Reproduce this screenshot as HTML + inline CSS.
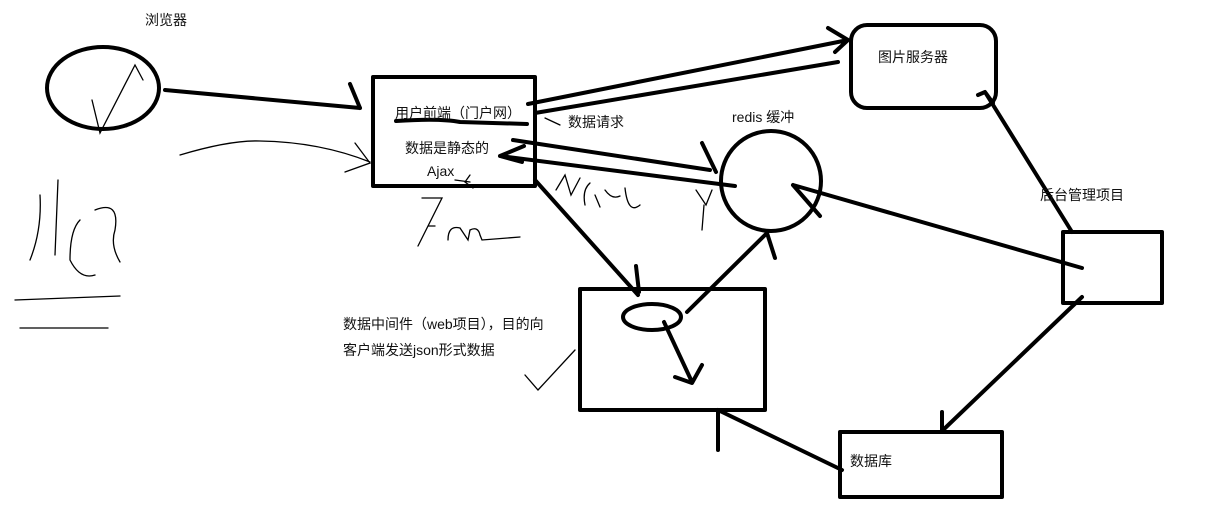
<!DOCTYPE html>
<html><head><meta charset="utf-8"><style>
html,body{margin:0;padding:0;background:#fff;}
svg{display:block}
text{font-family:"Liberation Sans","Noto Sans CJK SC",sans-serif;font-size:14px;fill:#111}
</style></head><body>
<svg width="1207" height="522" viewBox="0 0 1207 522">
<g fill="none" stroke="#000" stroke-width="4" stroke-linecap="round" stroke-linejoin="round">
<ellipse cx="103" cy="88" rx="56" ry="41"/>
<path d="M165,90 L360,108 M350,84 L360,108"/>
<rect x="373" y="77" width="162" height="109"/>
<path d="M396,121 Q440,118 460,122 L527,124"/>
<rect x="851" y="25" width="145" height="83" rx="16"/>
<path d="M528,104 L848,40 M828,28 L848,40 L835,52"/>
<path d="M535,113 L838,62"/>
<circle cx="771" cy="181" r="50"/>
<path d="M513,140 L710,170 M702,143 L716,172"/>
<path d="M500,156 L735,186 M524,146 L500,156 L522,162"/>
<rect x="1063" y="232" width="99" height="71"/>
<path d="M1082,268 L793,185 M793,185 L820,216"/>
<path d="M1072,232 L985,92 M978,95 L985,92 L993,103"/>
<rect x="580" y="289" width="185" height="121"/>
<ellipse cx="652" cy="317" rx="29" ry="13"/>
<path d="M535,180 L638,295 M636,266 L639,292"/>
<path d="M687,312 L767,233 L775,258"/>
<path d="M664,322 L692,382 M675,377 L692,383 L702,365"/>
<rect x="840" y="432" width="162" height="65"/>
<path d="M1082,297 L942,431 M942,412 L942,431"/>
<path d="M842,470 L718,410 L718,450"/>
</g>
<g fill="none" stroke="#000" stroke-width="1.3" stroke-linecap="round">
<path d="M92,100 L100,133 L135,65 L143,80"/>
<path d="M180,155 Q230,140 260,141 Q320,142 370,162 M355,143 L370,163 L345,172"/>
<path d="M40,195 Q42,230 30,260 M58,180 L55,255 M80,220 Q70,230 70,260 Q80,280 95,275 M95,210 Q120,200 115,230 Q110,245 120,262"/>
<path d="M15,300 L120,296 M20,328 L108,328"/>
<path d="M422,198 L442,198 L418,246 M428,226 L435,226 M448,240 Q448,225 460,228 L468,240 L470,230 Q478,226 480,235 L482,240 L520,237"/>
<path d="M470,175 L465,182 L473,188 M470,182 L455,180"/>
<path d="M556,190 L565,175 L571,195 L580,178 M590,183 Q582,190 585,205 M595,195 L600,207 M605,190 Q612,200 620,196 M625,188 Q628,215 640,205"/>
<path d="M696,190 L706,205 L712,190 M704,205 L702,230"/>
<path d="M525,375 L538,390 L575,350"/>
<path d="M545,118 L560,125"/>
</g>
<text x="145" y="25">浏览器</text>
<text x="395" y="118">用户前端（门户网）</text>
<text x="405" y="153">数据是静态的</text>
<text x="427" y="176">Ajax</text>
<text x="568" y="127">数据请求</text>
<text x="732" y="122">redis 缓冲</text>
<text x="878" y="62">图片服务器</text>
<text x="1040" y="200">后台管理项目</text>
<text x="343" y="329">数据中间件（web项目），目的向</text>
<text x="343" y="355">客户端发送json形式数据</text>
<text x="850" y="466">数据库</text>
</svg>
</body></html>
